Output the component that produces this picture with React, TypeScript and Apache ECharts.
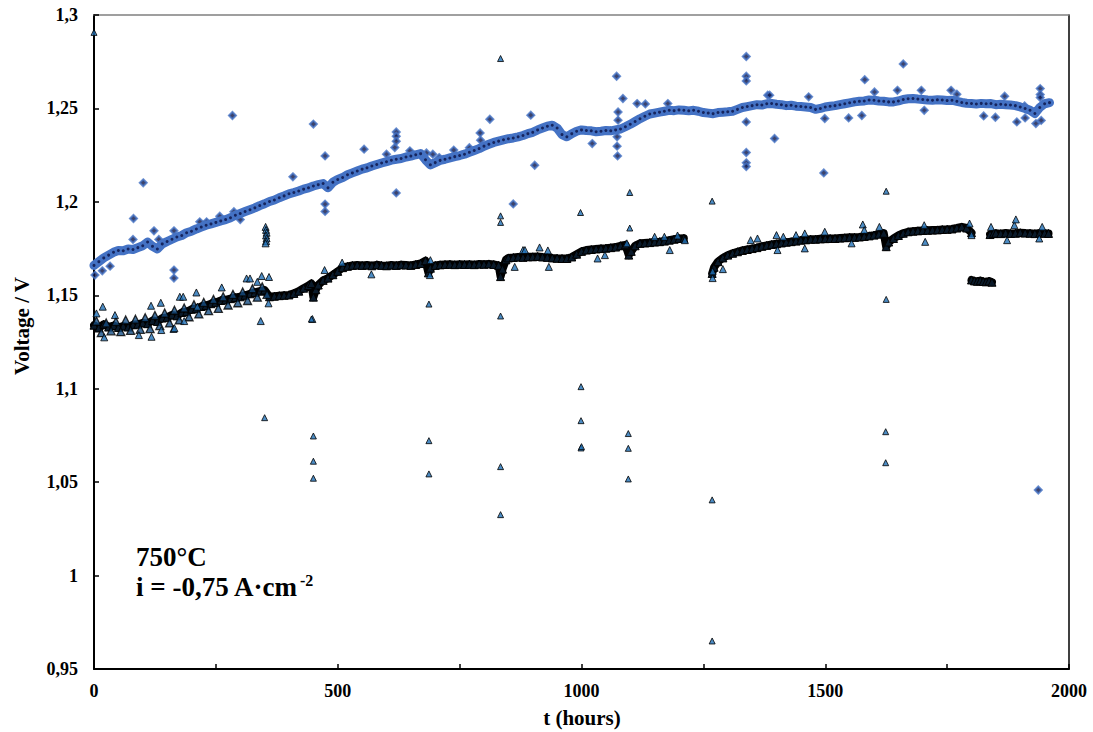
import React, { useEffect, useRef } from "react";
import * as echarts from "echarts";

// ---------- axis settings ----------
const xMin = 0;
const xMax = 2000;
const xTickStep = 250;
const xLabelStep = 500;
const yMin = 0.95;
const yMax = 1.3;
const yStep = 0.05;

// ---------- upper series (blue diamonds): main band [hours, V] ----------
const blueTrend: [number, number][] = [
  [0, 1.166], [10, 1.168], [20, 1.170], [30, 1.1715], [40, 1.173], [50, 1.174], [60, 1.1738], [70, 1.1748],
  [80, 1.1745], [90, 1.1755], [100, 1.1765], [110, 1.1785], [120, 1.1762], [130, 1.1748], [140, 1.1775],
  [150, 1.1788], [160, 1.18], [170, 1.1812], [180, 1.182], [190, 1.1835], [200, 1.1843], [210, 1.1855],
  [220, 1.1865], [230, 1.1875], [240, 1.1882], [250, 1.189], [260, 1.1898], [270, 1.1905], [280, 1.1915],
  [290, 1.1928], [300, 1.1938], [310, 1.1948], [320, 1.1958], [330, 1.1968], [340, 1.198], [350, 1.199],
  [360, 1.2002], [370, 1.201], [380, 1.2022], [390, 1.2032], [400, 1.2043], [410, 1.205], [420, 1.2058],
  [430, 1.2068], [440, 1.2075], [450, 1.2085], [460, 1.2092], [470, 1.2098], [480, 1.2075], [490, 1.2105],
  [500, 1.212], [510, 1.213], [520, 1.2145], [530, 1.2155], [540, 1.2165], [550, 1.2175], [560, 1.2182],
  [570, 1.2192], [580, 1.22], [590, 1.2208], [600, 1.2215], [610, 1.2223], [620, 1.2228], [630, 1.2232],
  [640, 1.224], [650, 1.2245], [660, 1.2252], [670, 1.2258], [680, 1.2225], [690, 1.2198], [700, 1.221],
  [710, 1.2222], [720, 1.2228], [730, 1.2235], [740, 1.2242], [750, 1.2248], [760, 1.2255], [770, 1.2265],
  [780, 1.2275], [790, 1.2285], [800, 1.2298], [810, 1.2308], [820, 1.2318], [830, 1.2325], [840, 1.2332],
  [850, 1.2338], [860, 1.2342], [870, 1.2348], [880, 1.2355], [890, 1.2365], [900, 1.2372], [910, 1.2385],
  [920, 1.2395], [930, 1.2405], [940, 1.241], [950, 1.2395], [960, 1.236], [970, 1.2348], [980, 1.2365],
  [990, 1.2378], [1000, 1.2385], [1010, 1.2382], [1020, 1.238], [1030, 1.2375], [1040, 1.2378], [1050, 1.2382],
  [1060, 1.238], [1070, 1.2385], [1080, 1.239], [1090, 1.2402], [1100, 1.2415], [1110, 1.243], [1120, 1.2445],
  [1130, 1.2458], [1140, 1.247], [1150, 1.2475], [1160, 1.248], [1170, 1.2485], [1180, 1.249], [1190, 1.2488],
  [1200, 1.2492], [1210, 1.249], [1220, 1.2487], [1230, 1.249], [1240, 1.2485], [1250, 1.2478], [1260, 1.2475],
  [1270, 1.2472], [1280, 1.2478], [1290, 1.248], [1300, 1.2482], [1310, 1.2485], [1320, 1.2495], [1330, 1.2505],
  [1340, 1.251], [1350, 1.2515], [1360, 1.252], [1370, 1.2518], [1380, 1.2525], [1390, 1.2526], [1400, 1.2522],
  [1410, 1.252], [1420, 1.2515], [1430, 1.2517], [1440, 1.2512], [1450, 1.251], [1460, 1.2508], [1470, 1.2505],
  [1480, 1.2495], [1490, 1.25], [1500, 1.2508], [1510, 1.2512], [1520, 1.2515], [1530, 1.252], [1540, 1.2525],
  [1550, 1.253], [1560, 1.2535], [1570, 1.2538], [1580, 1.254], [1590, 1.2545], [1600, 1.2544], [1610, 1.254],
  [1620, 1.2538], [1630, 1.2535], [1640, 1.2535], [1650, 1.254], [1660, 1.2548], [1670, 1.2552], [1680, 1.2553],
  [1690, 1.255], [1700, 1.2548], [1710, 1.2545], [1720, 1.2544], [1730, 1.2546], [1740, 1.2545], [1750, 1.2542],
  [1760, 1.2544], [1770, 1.2538], [1780, 1.2532], [1790, 1.2528], [1800, 1.2526], [1810, 1.2524], [1820, 1.2527],
  [1830, 1.2525], [1840, 1.2526], [1850, 1.252], [1860, 1.2522], [1870, 1.252], [1880, 1.2518], [1890, 1.2515],
  [1900, 1.2508], [1910, 1.25], [1920, 1.249], [1930, 1.2473], [1940, 1.2505], [1950, 1.2525], [1960, 1.2531],
];

// ---------- upper series: scattered readings off the band ----------
const blueScatter: [number, number][] = [
  [2, 1.1608], [17, 1.1631], [33, 1.1656], [80, 1.1799], [81, 1.1911], [101, 1.2102], [123, 1.1845],
  [133, 1.1799], [164, 1.1845], [164, 1.1635], [164, 1.1592], [217, 1.1893], [231, 1.1893], [258, 1.1923],
  [284, 1.2462], [287, 1.1947], [300, 1.1905], [408, 1.2134], [450, 1.2416], [474, 1.2246], [474, 1.1988],
  [474, 1.1949], [554, 1.2282], [600, 1.2255], [617, 1.2291], [620, 1.2374], [620, 1.2351], [620, 1.2324],
  [620, 1.2048], [648, 1.2273], [682, 1.2262], [695, 1.2255], [708, 1.2237], [738, 1.2277], [770, 1.229],
  [792, 1.2369], [793, 1.233], [812, 1.2442], [860, 1.1989], [896, 1.2464], [904, 1.2196], [1022, 1.2312],
  [1072, 1.2672], [1075, 1.2481], [1075, 1.2437], [1073, 1.2348], [1073, 1.2298], [1074, 1.2246],
  [1085, 1.2553], [1114, 1.2526], [1131, 1.2524], [1177, 1.2526], [1338, 1.2778], [1338, 1.2672],
  [1338, 1.2647], [1338, 1.2428], [1338, 1.2264], [1338, 1.2209], [1338, 1.2189], [1382, 1.2571],
  [1386, 1.2571], [1396, 1.2339], [1466, 1.2562], [1497, 1.2155], [1499, 1.2446], [1548, 1.2449],
  [1575, 1.2462], [1581, 1.2654], [1601, 1.2588], [1648, 1.2597], [1660, 1.2738], [1697, 1.2597],
  [1703, 1.249], [1758, 1.2597], [1770, 1.2576], [1825, 1.246], [1849, 1.2453], [1868, 1.2565],
  [1893, 1.2428], [1909, 1.2513], [1910, 1.2449], [1932, 1.2419], [1937, 1.0458], [1941, 1.2606],
  [1941, 1.2574], [1941, 1.2558], [1943, 1.2436],
];

// ---------- lower series (triangles): main band, first segment [hours, V] ----------
const blackTrendA: [number, number][] = [
  [0, 1.134], [10, 1.1325], [20, 1.1345], [30, 1.133], [40, 1.1338], [50, 1.1328], [60, 1.1335], [70, 1.133],
  [80, 1.1342], [90, 1.1345], [100, 1.1352], [110, 1.1348], [120, 1.1365], [130, 1.136], [140, 1.1378],
  [150, 1.1382], [160, 1.1395], [170, 1.139], [180, 1.1408], [190, 1.1412], [200, 1.1425], [210, 1.143],
  [220, 1.144], [230, 1.1445], [240, 1.1455], [250, 1.1462], [260, 1.1472], [270, 1.1475], [280, 1.1482],
  [290, 1.1488], [300, 1.1492], [310, 1.15], [320, 1.1508], [330, 1.1515], [340, 1.1522], [350, 1.1528],
  [360, 1.1492], [370, 1.1495], [380, 1.1498], [390, 1.15], [400, 1.1502], [410, 1.151], [420, 1.1522],
  [430, 1.1538], [440, 1.1552], [446, 1.1563], [450, 1.149], [455, 1.153], [460, 1.1555], [470, 1.158],
  [480, 1.1592], [490, 1.161], [500, 1.1628], [510, 1.1648], [520, 1.1655], [530, 1.166], [540, 1.1662],
  [550, 1.166], [560, 1.1662], [570, 1.1658], [580, 1.1663], [590, 1.166], [600, 1.1658], [610, 1.1662],
  [620, 1.166], [630, 1.1663], [640, 1.1662], [650, 1.166], [660, 1.1665], [670, 1.167], [680, 1.1685],
  [686, 1.162], [690, 1.1645], [700, 1.166], [710, 1.1663], [720, 1.1665], [730, 1.1666], [740, 1.1664],
  [750, 1.1666], [760, 1.1665], [770, 1.1666], [780, 1.1664], [790, 1.1667], [800, 1.1666], [810, 1.1668],
  [820, 1.1665], [830, 1.166], [834, 1.16], [838, 1.164], [845, 1.169], [850, 1.17], [860, 1.1702],
  [870, 1.1705], [880, 1.1703], [890, 1.1706], [900, 1.1706], [910, 1.1708], [920, 1.1705], [930, 1.1703],
  [940, 1.17], [950, 1.1698], [960, 1.1697], [970, 1.1697], [980, 1.1705], [990, 1.172], [1000, 1.1735],
  [1010, 1.1742], [1020, 1.1745], [1030, 1.1748], [1040, 1.175], [1050, 1.1752], [1060, 1.1755], [1070, 1.1758],
  [1080, 1.1765], [1090, 1.177], [1097, 1.1715], [1102, 1.1735], [1110, 1.1765], [1120, 1.1778], [1130, 1.178],
  [1140, 1.1782], [1150, 1.1785], [1160, 1.1787], [1170, 1.179], [1180, 1.1795], [1190, 1.18], [1200, 1.1804],
  [1210, 1.1805],
];

// ---------- lower series: main band after the interruption ----------
const blackTrendB: [number, number][] = [
  [1268, 1.1617], [1272, 1.165], [1280, 1.168], [1290, 1.17], [1300, 1.1715], [1310, 1.1725], [1320, 1.1733],
  [1330, 1.174], [1340, 1.1745], [1350, 1.175], [1360, 1.1755], [1370, 1.1762], [1380, 1.1767], [1390, 1.1772],
  [1400, 1.1776], [1410, 1.178], [1420, 1.1784], [1430, 1.1787], [1440, 1.179], [1450, 1.1795], [1460, 1.1797],
  [1470, 1.18], [1480, 1.18], [1490, 1.1802], [1500, 1.1803], [1510, 1.1804], [1520, 1.1804], [1530, 1.1806],
  [1540, 1.1808], [1550, 1.181], [1560, 1.181], [1570, 1.1812], [1580, 1.1815], [1590, 1.1818], [1600, 1.1822],
  [1610, 1.1827], [1620, 1.1832], [1625, 1.176], [1630, 1.1785], [1640, 1.1804], [1650, 1.182], [1660, 1.1832],
  [1670, 1.184], [1680, 1.1843], [1690, 1.1845], [1700, 1.1847], [1710, 1.1848], [1720, 1.1849], [1730, 1.185],
  [1740, 1.1852], [1750, 1.1853], [1760, 1.1855], [1770, 1.186], [1780, 1.1866], [1790, 1.186], [1800, 1.1835],
];

// ---------- lower series: low plateau around 1800-1842 h ----------
const blackDip: [number, number][] = [
  [1800, 1.1582], [1806, 1.1577], [1812, 1.1575], [1818, 1.1578], [1824, 1.1574], [1830, 1.1572],
  [1836, 1.1576], [1842, 1.157],
];

// ---------- lower series: last segment ----------
const blackTrendC: [number, number][] = [
  [1838, 1.1825], [1845, 1.183], [1850, 1.1832], [1860, 1.183], [1870, 1.1833], [1880, 1.1831], [1890, 1.1832],
  [1900, 1.1835], [1910, 1.1833], [1920, 1.1832], [1930, 1.183], [1940, 1.1833], [1950, 1.1832], [1958, 1.1831],
];

// ---------- lower series: noisy readings close to the early band ----------
const blackNoise: [number, number][] = [
  [5, 1.1362], [15, 1.13], [25, 1.1352], [35, 1.131], [45, 1.136], [55, 1.1305], [65, 1.1368], [75, 1.1312],
  [85, 1.1372], [95, 1.1318], [105, 1.138], [115, 1.1322], [125, 1.1392], [135, 1.1338], [145, 1.1405],
  [155, 1.1352], [165, 1.142], [175, 1.1368], [185, 1.1432], [195, 1.1385], [205, 1.145], [215, 1.14],
  [225, 1.1462], [235, 1.1418], [245, 1.1478], [255, 1.143], [265, 1.1492], [275, 1.1448], [285, 1.1505],
  [295, 1.146], [305, 1.1518], [315, 1.1472], [325, 1.1535], [335, 1.149], [345, 1.1545], [355, 1.1505],
];

// ---------- lower series: scattered readings off the band ----------
const blackScatter: [number, number][] = [
  [5, 1.1403], [18, 1.1439], [21, 1.1275], [43, 1.1394], [92, 1.1287], [117, 1.1444], [118, 1.1278],
  [137, 1.146], [138, 1.1314], [163, 1.132], [165, 1.1324], [176, 1.1492], [183, 1.1492], [185, 1.1362],
  [210, 1.1515], [212, 1.1439], [262, 1.1542], [313, 1.159], [320, 1.159], [335, 1.1572], [342, 1.1362],
  [344, 1.1603], [358, 1.1457], [359, 1.1598], [448, 1.1373], [473, 1.1635],
  [509, 1.1675], [569, 1.1612], [689, 1.1608], [690, 1.1688], [863, 1.1652], [880, 1.1742], [884, 1.1742],
  [914, 1.1756], [931, 1.174], [933, 1.1652], [1033, 1.1697], [1048, 1.1715], [1093, 1.1778],
  [1150, 1.1813], [1170, 1.1813], [1181, 1.1742], [1197, 1.182], [1212, 1.1795], [1269, 1.1592],
  [1269, 1.1628], [1290, 1.164], [1347, 1.1795], [1361, 1.1804], [1400, 1.1822], [1402, 1.1742],
  [1414, 1.1813], [1440, 1.1822], [1458, 1.1831], [1458, 1.1751], [1499, 1.184], [1554, 1.1778],
  [1577, 1.1879], [1580, 1.1849], [1611, 1.1866], [1703, 1.1875], [1705, 1.1786], [1796, 1.1884],
  [1800, 1.1822], [1840, 1.1866], [1873, 1.1795], [1888, 1.1875], [1891, 1.1906], [1939, 1.1804],
  [1945, 1.1866],
  [352, 1.1866], [353, 1.185], [354, 1.1835], [353, 1.182], [354, 1.1805], [353, 1.179], [352, 1.1778],
];

// ---------- lower series: isolated outliers ----------
const blackOutliers: [number, number][] = [
  [0, 1.2907], [350, 1.0845], [446, 1.1373], [450, 1.0747], [450, 1.0612], [450, 1.0521], [687, 1.1453],
  [687, 1.0722], [687, 1.0544], [834, 1.2767], [834, 1.1925], [834, 1.189], [834, 1.1389], [834, 1.0583],
  [834, 1.0326], [998, 1.1943], [999, 1.1011], [999, 1.0829], [999, 1.0683], [1000, 1.069], [1099, 1.205],
  [1099, 1.186], [1096, 1.076], [1096, 1.0681], [1096, 1.0517], [1268, 1.2004], [1268, 1.0405],
  [1268, 0.965], [1625, 1.2057], [1625, 1.1478], [1624, 1.077], [1624, 1.0604],
];

const SERIF = '"Liberation Serif", "Times New Roman", serif';

function fmtY(v: number): string {
  return String(Math.round(v * 100) / 100).replace(".", ",");
}

export default function App() {
  const ref = useRef<HTMLDivElement>(null);
  useEffect(() => {
    document.body.style.margin = "0";
    if (!ref.current) return;
    const chart = echarts.init(ref.current, undefined, { renderer: "svg" });

    const blueStyle = { color: "#0c1445", borderColor: "#4472c4", borderWidth: 2 };
    const triStyle = { color: "#1f6fb5", borderColor: "#000000", borderWidth: 1 };
    const triNoiseStyle = { color: "#174f85", borderColor: "#000000", borderWidth: 1.3 };
    const triBandStyle = { color: "#0a1a2a", borderColor: "#000000", borderWidth: 1 };

    const blackLine = (data: [number, number][]) => ({
      type: "line",
      data,
      symbol: "triangle",
      symbolSize: 8,
      showSymbol: true,
      showAllSymbol: true,
      lineStyle: { color: "#000000", width: 8, join: "round", cap: "round" },
      itemStyle: triBandStyle,
      silent: true,
      z: 3,
    });

    chart.setOption({
      animation: false,
      backgroundColor: "#ffffff",
      grid: { left: 94, right: 24, top: 15, bottom: 63, containLabel: false },
      xAxis: [
        {
          type: "value",
          min: xMin,
          max: xMax,
          interval: xTickStep,
          axisLine: { show: true, onZero: false, lineStyle: { color: "#000", width: 2 } },
          axisTick: { show: true, inside: true, length: 5, lineStyle: { color: "#000", width: 1.5 } },
          axisLabel: {
            margin: 13,
            fontFamily: SERIF,
            fontWeight: "bold",
            fontSize: 18,
            color: "#000",
            formatter: (v: number) => (v % xLabelStep === 0 ? String(v) : ""),
          },
          splitLine: { show: false },
        },
        {
          type: "value",
          position: "top",
          min: xMin,
          max: xMax,
          axisLine: { show: true, onZero: false, lineStyle: { color: "#808080", width: 1.5 } },
          axisTick: { show: false },
          axisLabel: { show: false },
          splitLine: { show: false },
        },
      ],
      yAxis: [
        {
          type: "value",
          min: yMin,
          max: yMax,
          interval: yStep,
          axisLine: { show: true, onZero: false, lineStyle: { color: "#000", width: 2 } },
          axisTick: { show: true, inside: true, length: 5, lineStyle: { color: "#000", width: 1.5 } },
          axisLabel: {
            margin: 16,
            fontFamily: SERIF,
            fontWeight: "bold",
            fontSize: 18,
            color: "#000",
            formatter: (v: number) => fmtY(v),
          },
          splitLine: { show: false },
        },
        {
          type: "value",
          position: "right",
          min: yMin,
          max: yMax,
          axisLine: { show: true, onZero: false, lineStyle: { color: "#000", width: 1.5 } },
          axisTick: { show: false },
          axisLabel: { show: false },
          splitLine: { show: false },
        },
      ],
      series: [
        {
          type: "line",
          data: blueTrend,
          symbol: "circle",
          symbolSize: 3,
          showSymbol: true,
          showAllSymbol: true,
          lineStyle: { color: "#4472c4", width: 9, join: "round", cap: "round" },
          itemStyle: { color: "#16255e", borderWidth: 0 },
          silent: true,
        },
        {
          type: "scatter",
          data: blueScatter,
          symbol: "diamond",
          symbolSize: 7,
          itemStyle: blueStyle,
          silent: true,
        },
        blackLine(blackTrendA),
        blackLine(blackTrendB),
        blackLine(blackDip),
        blackLine(blackTrendC),
        {
          type: "scatter",
          data: blackNoise,
          symbol: "triangle",
          symbolSize: 8,
          itemStyle: triNoiseStyle,
          silent: true,
          z: 4,
        },
        {
          type: "scatter",
          data: blackScatter,
          symbol: "triangle",
          symbolSize: 7,
          itemStyle: triStyle,
          silent: true,
          z: 4,
        },
        {
          type: "scatter",
          data: blackOutliers,
          symbol: "triangle",
          symbolSize: 6,
          itemStyle: triStyle,
          silent: true,
          z: 4,
        },
      ],
      graphic: [
        {
          type: "text",
          x: 22,
          y: 326,
          rotation: Math.PI / 2,
          style: {
            text: "Voltage / V",
            font: `bold 21px ${SERIF}`,
            fill: "#000",
            align: "center",
            verticalAlign: "middle",
          },
        },
        {
          type: "text",
          x: 582,
          y: 718,
          style: {
            text: "t (hours)",
            font: `bold 21px ${SERIF}`,
            fill: "#000",
            align: "center",
            verticalAlign: "middle",
          },
        },
        {
          type: "text",
          x: 136,
          y: 557,
          style: {
            text: "750°C",
            font: `bold 27px ${SERIF}`,
            fill: "#000",
            align: "left",
            verticalAlign: "middle",
          },
        },
        {
          type: "text",
          x: 136,
          y: 587,
          style: {
            text: "i = -0,75 A·cm",
            font: `bold 27px ${SERIF}`,
            fill: "#000",
            align: "left",
            verticalAlign: "middle",
          },
        },
        {
          type: "text",
          x: 300,
          y: 580,
          style: {
            text: "-2",
            font: `bold 16px ${SERIF}`,
            fill: "#000",
            align: "left",
            verticalAlign: "middle",
          },
        },
      ],
    });
    return () => chart.dispose();
  }, []);
  return <div ref={ref} style={{ width: 1093, height: 732 }} />;
}
